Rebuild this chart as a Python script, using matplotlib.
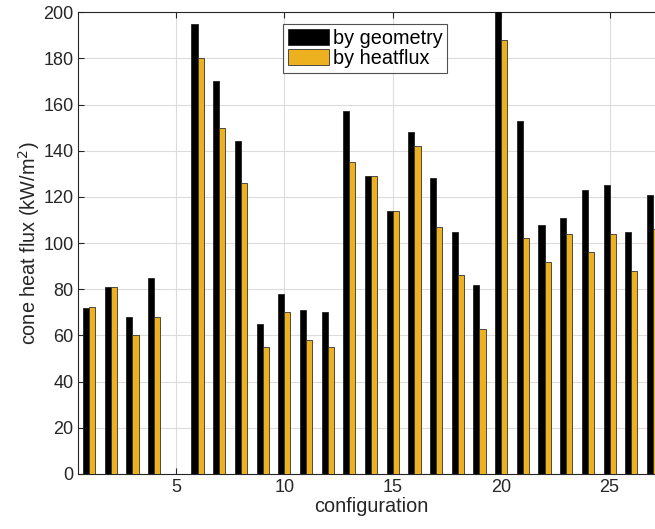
import matplotlib
matplotlib.use("Agg")
import matplotlib.pyplot as plt
import numpy as np

# données
configs = np.arange(1, 28)
by_geometry = [72, 81, 68, 85, 0, 195, 170, 144, 65, 78, 71, 70, 157, 129,
               114, 148, 128, 105, 82, 201, 153, 108, 111, 123, 125, 105, 121]
by_heatflux = [72.5, 81, 60, 68, 0, 180, 150, 126, 55, 70, 58, 55, 135, 129,
               114, 142, 107, 86, 63, 188, 102, 92, 104, 96, 104, 88, 106]
x_ticks = [5, 10, 15, 20, 25]
y_ticks = np.arange(0, 201, 20)

plt.rcParams['font.family'] = ['Liberation Sans', 'DejaVu Sans']
txt = '#262626'

fig = plt.figure(figsize=(6.55, 5.29), dpi=100)
ax = fig.add_axes([0.1195, 0.104, 0.894, 0.873])

w = 0.28
ax.bar(configs - w / 2, by_geometry, width=w, color='black',
       edgecolor='#222222', linewidth=0.6, label='by geometry', zorder=3)
ax.bar(configs + w / 2, by_heatflux, width=w, color='#EDB120',
       edgecolor='#333333', linewidth=0.6, label='by heatflux', zorder=3)

ax.set_xlim(0.5, 27.5)
ax.set_ylim(0, 200)
ax.set_xticks(x_ticks)
ax.set_yticks(y_ticks)
ax.grid(True, color='#dcdcdc', linewidth=0.8, zorder=0)
ax.tick_params(direction='in', length=4, labelsize=13, colors=txt,
               top=True, right=True)
for s in ax.spines.values():
    s.set_color(txt)
    s.set_linewidth(0.8)

ax.set_xlabel('configuration', fontsize=14.3, color=txt, labelpad=1)
ax.set_ylabel('cone heat flux (kW/m$^2$)', fontsize=14.3, color=txt, labelpad=1)

leg = ax.legend(loc='upper left', bbox_to_anchor=(283 / 655, 1 - 24 / 529),
                bbox_transform=fig.transFigure, fontsize=14.3, frameon=True,
                fancybox=False, edgecolor=txt, borderpad=0.25,
                handlelength=2.05, handleheight=0.85, handletextpad=0.2,
                labelspacing=0.05, borderaxespad=0)
leg.get_frame().set_linewidth(0.8)
for t in leg.get_texts():
    t.set_color('black')

fig.savefig('out.png', dpi=100)
